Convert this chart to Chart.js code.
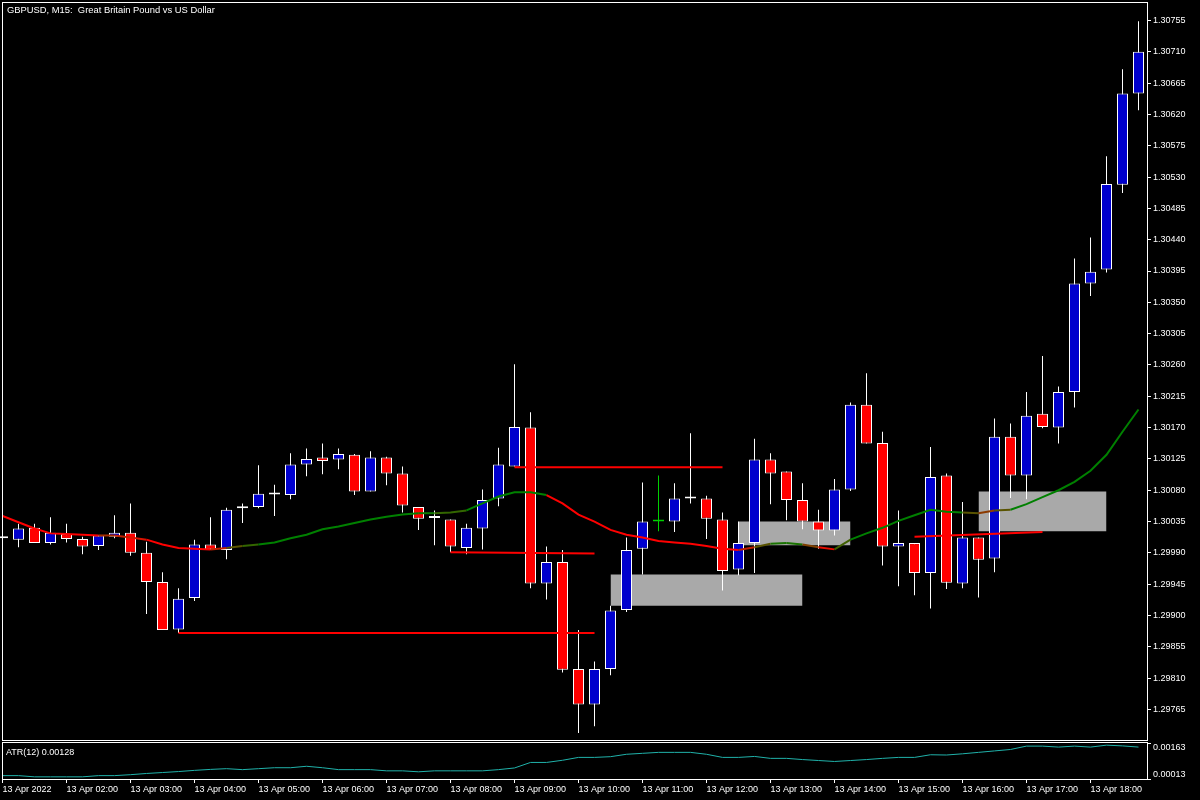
<!DOCTYPE html>
<html>
<head>
<meta charset="utf-8">
<title>GBPUSD, M15</title>
<script src="https://cdn.jsdelivr.net/npm/chart.js@4/dist/chart.umd.min.js"></script>
<style>
  html, body { margin: 0; padding: 0; background: #000; }
  body { width: 1200px; height: 800px; position: relative; overflow: hidden; font-family: "Liberation Sans", Arial, sans-serif; }
  canvas { position: absolute; left: 0; }
  #main { top: 0; }
  #atr { top: 735px; }
  .lbl { position: absolute; color: #fff; font-size: 9px; white-space: pre; z-index: 2; line-height: 11px; }
  #title { font-size: 9.4px; }
</style>
</head>
<body>
<canvas id="main" width="1200" height="742"></canvas>
<canvas id="atr" width="1200" height="65"></canvas>
<div class="lbl" id="title" style="left:7px;top:4px">GBPUSD, M15:  Great Britain Pound vs US Dollar</div>
<div class="lbl" style="left:6px;top:747px">ATR(12) 0.00128</div>
<script>
// M15 candles, 13 Apr 2022 01:00 .. 18:45 (index 0..71)
const opens = [
  1.30011, 1.30009, 1.30026, 1.30004, 1.30017, 1.30010, 1.30000, 1.30013, 1.30019, 1.29990,
  1.29948, 1.29880, 1.29925, 1.30002, 1.29994, 1.30054, 1.30056, 1.30074, 1.30073, 1.30117,
  1.30127, 1.30124, 1.30131, 1.30078, 1.30127, 1.30104, 1.30056, 1.30040, 1.30038, 1.29997,
  1.30025, 1.30068, 1.30114, 1.30170, 1.29946, 1.29977, 1.29823, 1.29772, 1.29823, 1.29908,
  1.29996, 1.30035, 1.30035, 1.30068, 1.30068, 1.30038, 1.29966, 1.30004, 1.30124, 1.30107,
  1.30066, 1.30035, 1.30022, 1.30081, 1.30203, 1.30148, 1.29999, 1.30004, 1.29961, 1.30101,
  1.29946, 1.30012, 1.29982, 1.30157, 1.30101, 1.30190, 1.30170, 1.30221, 1.30377, 1.30397,
  1.30519, 1.30650
];
const highs = [
  1.30013, 1.30032, 1.30032, 1.30041, 1.30032, 1.30013, 1.30015, 1.30044, 1.30061, 1.30006,
  1.29962, 1.29939, 1.30009, 1.30041, 1.30055, 1.30061, 1.30116, 1.30088, 1.30133, 1.30140,
  1.30147, 1.30140, 1.30132, 1.30136, 1.30128, 1.30114, 1.30056, 1.30051, 1.30038, 1.30032,
  1.30081, 1.30141, 1.30261, 1.30192, 1.29999, 1.29994, 1.29879, 1.29834, 1.29914, 1.30012,
  1.30091, 1.30101, 1.30090, 1.30162, 1.30072, 1.30048, 1.30035, 1.30154, 1.30133, 1.30107,
  1.30090, 1.30052, 1.30096, 1.30206, 1.30248, 1.30164, 1.30051, 1.30004, 1.30142, 1.30104,
  1.30063, 1.30012, 1.30183, 1.30176, 1.30221, 1.30273, 1.30229, 1.30413, 1.30443, 1.30560,
  1.30685, 1.30754
];
const lows = [
  1.30010, 1.29998, 1.30004, 1.30002, 1.30005, 1.29988, 1.29994, 1.30011, 1.29986, 1.29902,
  1.29879, 1.29875, 1.29921, 1.29995, 1.29981, 1.30033, 1.30054, 1.30043, 1.30067, 1.30100,
  1.30103, 1.30110, 1.30073, 1.30078, 1.30087, 1.30048, 1.30023, 1.30001, 1.29991, 1.29988,
  1.29995, 1.30057, 1.30114, 1.29939, 1.29923, 1.29818, 1.29731, 1.29741, 1.29814, 1.29905,
  1.29959, 1.30021, 1.30020, 1.30061, 1.30010, 1.29936, 1.29958, 1.29961, 1.30060, 1.30037,
  1.30024, 1.29996, 1.30015, 1.30079, 1.30147, 1.29972, 1.29942, 1.29929, 1.29910, 1.29938,
  1.29939, 1.29926, 1.29962, 1.30069, 1.30067, 1.30169, 1.30147, 1.30199, 1.30359, 1.30393,
  1.30507, 1.30626
];
const closes = [
  1.30012, 1.30025, 1.30004, 1.30019, 1.30010, 1.29999, 1.30015, 1.30019, 1.29990, 1.29948,
  1.29879, 1.29924, 1.30002, 1.29995, 1.30052, 1.30055, 1.30075, 1.30075, 1.30117, 1.30125,
  1.30122, 1.30132, 1.30078, 1.30127, 1.30104, 1.30058, 1.30039, 1.30041, 1.29999, 1.30026,
  1.30066, 1.30117, 1.30171, 1.29946, 1.29977, 1.29822, 1.29772, 1.29823, 1.29907, 1.29994,
  1.30035, 1.30035, 1.30068, 1.30069, 1.30039, 1.29964, 1.30004, 1.30124, 1.30104, 1.30066,
  1.30035, 1.30022, 1.30081, 1.30203, 1.30147, 1.29999, 1.30004, 1.29961, 1.30099, 1.29947,
  1.30012, 1.29980, 1.30157, 1.30101, 1.30187, 1.30171, 1.30221, 1.30377, 1.30394, 1.30520,
  1.30650, 1.30710
];
// moving average
const ma = [
  1.30043, 1.30034, 1.30025, 1.30018, 1.30017, 1.30016, 1.30015, 1.30015, 1.30012, 1.30009,
  1.30002, 1.29997, 1.29996, 1.29995, 1.29997, 1.30000, 1.30002, 1.30005, 1.30011, 1.30016,
  1.30024, 1.30028, 1.30033, 1.30038, 1.30042, 1.30045, 1.30047, 1.30047, 1.30048, 1.30051,
  1.30061, 1.30071, 1.30077, 1.30077, 1.30073, 1.30061, 1.30045, 1.30035, 1.30023, 1.30016,
  1.30012, 1.30007, 1.30005, 1.30003, 1.30000, 1.29996, 1.29994, 1.29998, 1.30003, 1.30004,
  1.30002, 1.29998, 1.29995, 1.30009, 1.30018, 1.30026, 1.30036, 1.30044, 1.30052, 1.30049,
  1.30048, 1.30047, 1.30051, 1.30052, 1.30060, 1.30070, 1.30080, 1.30092, 1.30108, 1.30131,
  1.30164, 1.30196
];
// ATR(12) sub-window
const atr = [
  0.00027, 0.00027, 0.00022, 0.00022, 0.00022, 0.00022, 0.00027, 0.00027, 0.00031, 0.00036,
  0.00040, 0.00044, 0.00049, 0.00053, 0.00056, 0.00052, 0.00056, 0.00060, 0.00060, 0.00066,
  0.00060, 0.00052, 0.00052, 0.00052, 0.00047, 0.00047, 0.00043, 0.00047, 0.00047, 0.00047,
  0.00047, 0.00052, 0.00059, 0.00082, 0.00082, 0.00091, 0.00103, 0.00103, 0.00106, 0.00116,
  0.00120, 0.00124, 0.00124, 0.00124, 0.00116, 0.00103, 0.00103, 0.00107, 0.00099, 0.00099,
  0.00094, 0.00090, 0.00086, 0.00090, 0.00094, 0.00099, 0.00103, 0.00103, 0.00114, 0.00113,
  0.00118, 0.00124, 0.00130, 0.00136, 0.00150, 0.00150, 0.00146, 0.00150, 0.00146, 0.00154,
  0.00151, 0.00146
];

// drawn objects: grey zones and red lines (bar index / price)
const zoneFrom = [38, 46, 61];
const zoneTo = [50, 53, 69];
const zoneHigh = [1.29959, 1.30035, 1.30078];
const zoneLow = [1.29914, 1.30001, 1.30021];

const lineFrom = [11, 28, 32, 57];
const lineTo = [37, 37, 45, 65];
const lineFromPrice = [1.29875, 1.29991, 1.30113, 1.30013];
const lineToPrice = [1.29875, 1.29989, 1.30113, 1.30020];

// axes
const priceTicks = [
  1.29765, 1.29810, 1.29855, 1.29900, 1.29945, 1.29990, 1.30035, 1.30080, 1.30125, 1.30170,
  1.30215, 1.30260, 1.30305, 1.30350, 1.30395, 1.30440, 1.30485, 1.30530, 1.30575, 1.30620,
  1.30665, 1.30710, 1.30755
];
const atrTicks = [0.00163, 0.00013];
const hourTicks = [0, 4, 8, 12, 16, 20, 24, 28, 32, 36, 40, 44, 48, 52, 56, 60, 64, 68];
const hourLabels = [
  "13 Apr 2022", "13 Apr 02:00", "13 Apr 03:00", "13 Apr 04:00", "13 Apr 05:00", "13 Apr 06:00",
  "13 Apr 07:00", "13 Apr 08:00", "13 Apr 09:00", "13 Apr 10:00", "13 Apr 11:00", "13 Apr 12:00",
  "13 Apr 13:00", "13 Apr 14:00", "13 Apr 15:00", "13 Apr 16:00", "13 Apr 17:00", "13 Apr 18:00"
];

const BULL = "#0000CD", BEAR = "#FF0000", DOJI = "#00D000", EDGE = "#FFFFFF";
const X_MIN = 0.03125, X_MAX = 71.53125;
const Y_MAX = 1.307801, Y_MIN = 1.297211;

Chart.defaults.font.family = '"Liberation Sans", Arial, sans-serif';
Chart.defaults.font.size = 9;
Chart.defaults.color = "#fff";

function bodyFill(i) {
  if (closes[i] > opens[i]) return BULL;
  if (closes[i] < opens[i]) return BEAR;
  return DOJI;
}
function edgeColour(i) {
  return closes[i] === opens[i] ? DOJI : EDGE;
}
// red when the average falls, green when it rises, brown in between
function trendColour(i) {
  const a = Math.max(0, i - 3), b = Math.min(ma.length - 1, i + 1);
  let t = 0.5 + (ma[b] - ma[a]) / (b - a) / 0.00005;
  t = Math.max(0, Math.min(1, t));
  return "rgb(" + Math.round(255 * (1 - t)) + "," + Math.round(128 * t) + ",0)";
}

// keep the plot box exactly where the layout padding puts it
function fixWidth(s) {
  s.width = 53;
  s.paddingTop = 0;
  s.paddingBottom = 0;
}

const framePlugin = {
  id: "frame",
  afterDraw(chart) {
    const { ctx, chartArea: a } = chart;
    ctx.save();
    ctx.strokeStyle = "#fff";
    ctx.lineWidth = 1;
    ctx.strokeRect(a.left - 0.5, a.top - 0.5, a.right - a.left + 1, a.bottom - a.top + 1);
    ctx.restore();
  }
};

const datasets = [];

zoneFrom.forEach((x1, k) => {
  datasets.push({
    type: "line",
    data: [{ x: x1, y: zoneHigh[k] }, { x: zoneTo[k], y: zoneHigh[k] }],
    fill: { value: zoneLow[k] },
    backgroundColor: "#A9A9A9",
    borderWidth: 0,
    pointRadius: 0,
    order: 10
  });
});

datasets.push({
  type: "bar",
  data: lows.map((l, i) => ({ x: i, y: [l, highs[i]] })),
  backgroundColor: ctx => edgeColour(ctx.dataIndex),
  borderWidth: 0,
  barThickness: 1,
  grouped: false,
  inflateAmount: 0,
  clip: false,
  order: 6
});

datasets.push({
  type: "bar",
  data: opens.map((o, i) => ({ x: i, y: [o, closes[i]] })),
  backgroundColor: ctx => bodyFill(ctx.dataIndex),
  borderColor: ctx => edgeColour(ctx.dataIndex),
  borderWidth: 1,
  borderSkipped: false,
  barThickness: 11,
  minBarLength: 2,
  grouped: false,
  inflateAmount: 0,
  clip: false,
  order: 5
});

datasets.push({
  type: "line",
  data: ma.map((v, i) => ({ x: i, y: v })),
  borderColor: "#008000",
  borderWidth: 2,
  pointRadius: 0,
  tension: 0,
  segment: { borderColor: ctx => trendColour(ctx.p0DataIndex) },
  order: 2
});

lineFrom.forEach((x1, k) => {
  datasets.push({
    type: "line",
    data: [{ x: x1, y: lineFromPrice[k] }, { x: lineTo[k], y: lineToPrice[k] }],
    borderColor: "#FF0000",
    borderWidth: 2,
    pointRadius: 0,
    order: 1
  });
});

new Chart(document.getElementById("main"), {
  type: "bar",
  data: { datasets },
  options: {
    responsive: false,
    animation: false,
    events: [],
    devicePixelRatio: 1,
    layout: { padding: { left: 3, top: 3, right: 0, bottom: 2 } },
    plugins: { legend: { display: false }, tooltip: { enabled: false } },
    scales: {
      x: { type: "linear", min: X_MIN, max: X_MAX, offset: false, display: false },
      y: {
        position: "right",
        min: Y_MIN,
        max: Y_MAX,
        afterBuildTicks: s => { s.ticks = priceTicks.map(v => ({ value: v })); },
        afterFit: fixWidth,
        grid: { drawOnChartArea: false, color: "#fff", tickLength: 4 },
        border: { display: true, color: "#fff" },
        ticks: { color: "#fff", padding: 2, autoSkip: false, callback: v => v.toFixed(5) }
      }
    }
  },
  plugins: [framePlugin]
});

new Chart(document.getElementById("atr"), {
  type: "line",
  data: {
    datasets: [{
      data: atr.map((v, i) => ({ x: i, y: v })),
      borderColor: "#20B2AA",
      borderWidth: 1,
      pointRadius: 0,
      tension: 0
    }]
  },
  options: {
    responsive: false,
    animation: false,
    events: [],
    devicePixelRatio: 1,
    layout: { padding: { left: 3, top: 8, right: 0, bottom: 0 } },
    plugins: { legend: { display: false }, tooltip: { enabled: false } },
    scales: {
      x: {
        type: "linear",
        min: X_MIN,
        max: X_MAX,
        offset: false,
        afterBuildTicks: s => { s.ticks = hourTicks.map(v => ({ value: v })); },
        afterFit: s => { s.height = 21; s.paddingLeft = 0; s.paddingRight = 0; },
        grid: { drawOnChartArea: false, color: "#fff", tickLength: 4 },
        border: { display: true, color: "#fff" },
        ticks: {
          color: "#fff", align: "start", autoSkip: false, maxRotation: 0, minRotation: 0, padding: 1,
          callback: (v, i) => hourLabels[i]
        }
      },
      y: {
        position: "right",
        min: 0.00013,
        max: 0.00163,
        afterBuildTicks: s => { s.ticks = atrTicks.map(v => ({ value: v })); },
        afterFit: fixWidth,
        grid: { drawOnChartArea: false, color: "#fff", tickLength: 4 },
        border: { display: true, color: "#fff" },
        ticks: {
          color: "#fff", padding: 2, autoSkip: false, font: { size: 9, lineHeight: 1.1 },
          // top label sits just under its tick, bottom label just above
          callback: (v, i) => i === 0 ? ["", v.toFixed(5)] : [v.toFixed(5), ""]
        }
      }
    }
  },
  plugins: [framePlugin]
});
</script>
</body>
</html>
